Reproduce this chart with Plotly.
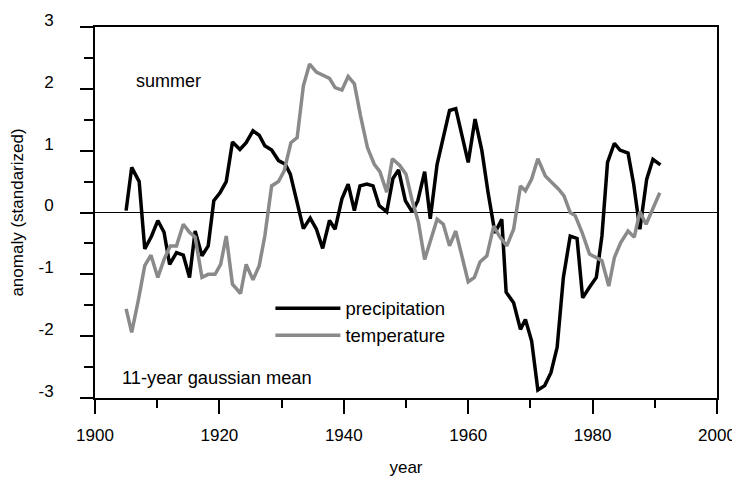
import plotly.graph_objects as go

# ---- data ----
precip_years = [1905.0, 1905.9, 1907.1, 1908.0, 1909.1, 1910.1, 1911.1, 1912.0, 1913.1, 1914.2,
                1915.2, 1916.1, 1917.2, 1918.2, 1919.1, 1920.1, 1921.1, 1922.1, 1923.3, 1924.3,
                1925.4, 1926.4, 1927.3, 1928.4, 1929.5, 1930.6, 1931.4, 1932.4, 1933.5, 1934.6,
                1935.6, 1936.6, 1937.7, 1938.6, 1939.7, 1940.7, 1941.7, 1942.6, 1943.7, 1944.7,
                1945.7, 1946.9, 1947.9, 1948.8, 1949.9, 1951.0, 1951.9, 1953.0, 1953.9, 1955.0,
                1955.9, 1957.0, 1958.0, 1959.0, 1960.0, 1961.1, 1962.2, 1963.2, 1964.3, 1965.4,
                1966.1, 1967.3, 1968.4, 1969.2, 1970.2, 1971.2, 1972.3, 1973.3, 1974.3, 1975.3,
                1976.4, 1977.5, 1978.4, 1979.5, 1980.6, 1981.5, 1982.4, 1983.5, 1984.4, 1985.7,
                1986.6, 1987.6, 1988.7, 1989.7, 1990.9]
precip_values = [0.03, 0.73, 0.50, -0.59, -0.38, -0.13, -0.32, -0.84, -0.65, -0.69,
                 -1.05, -0.30, -0.70, -0.54, 0.19, 0.32, 0.50, 1.14, 1.02, 1.13,
                 1.32, 1.25, 1.08, 1.01, 0.84, 0.78, 0.62, 0.19, -0.26, -0.09,
                 -0.27, -0.58, -0.13, -0.27, 0.22, 0.46, 0.03, 0.43, 0.46, 0.43,
                 0.11, 0.01, 0.55, 0.69, 0.19, 0.01, 0.19, 0.66, -0.10, 0.78,
                 1.19, 1.65, 1.68, 1.24, 0.81, 1.51, 1.00, 0.32, -0.33, -0.11,
                 -1.29, -1.46, -1.89, -1.73, -2.08, -2.87, -2.80, -2.59, -2.18, -1.05,
                 -0.38, -0.42, -1.38, -1.21, -1.05, -0.38, 0.81, 1.12, 1.01, 0.96,
                 0.46, -0.27, 0.54, 0.86, 0.77]

temp_years = [1905.0, 1905.9, 1907.0, 1908.0, 1909.0, 1910.1, 1911.1, 1912.1, 1913.1, 1914.2,
              1915.2, 1916.1, 1917.2, 1918.2, 1919.3, 1920.2, 1921.1, 1922.1, 1923.4, 1924.3,
              1925.4, 1926.4, 1927.3, 1928.4, 1929.5, 1930.4, 1931.5, 1932.5, 1933.5, 1934.5,
              1935.6, 1936.6, 1937.7, 1938.6, 1939.7, 1940.7, 1941.7, 1942.7, 1943.8, 1944.9,
              1945.8, 1946.9, 1947.8, 1949.0, 1950.0, 1951.0, 1952.0, 1953.0, 1954.0, 1955.0,
              1956.0, 1957.0, 1958.0, 1959.1, 1960.0, 1961.0, 1961.9, 1963.0, 1964.1, 1965.0,
              1966.2, 1967.3, 1968.4, 1969.2, 1970.2, 1971.2, 1972.4, 1973.4, 1974.5, 1975.4,
              1976.4, 1977.2, 1978.3, 1979.5, 1980.6, 1981.5, 1982.6, 1983.5, 1984.5, 1985.7,
              1986.7, 1987.6, 1988.6, 1989.7, 1990.8]
temp_values = [-1.56, -1.94, -1.40, -0.86, -0.69, -1.05, -0.76, -0.54, -0.54, -0.19,
               -0.32, -0.40, -1.05, -1.00, -1.00, -0.84, -0.38, -1.16, -1.31, -0.84,
               -1.09, -0.86, -0.38, 0.43, 0.50, 0.67, 1.13, 1.21, 2.05, 2.40,
               2.27, 2.22, 2.17, 2.02, 1.98, 2.20, 2.08, 1.56, 1.05, 0.78,
               0.66, 0.33, 0.87, 0.76, 0.62, 0.19, -0.16, -0.76, -0.43, -0.11,
               -0.19, -0.54, -0.30, -0.73, -1.12, -1.05, -0.80, -0.70, -0.22, -0.38,
               -0.54, -0.27, 0.43, 0.35, 0.54, 0.87, 0.59, 0.49, 0.38, 0.27,
               0.00, -0.05, -0.32, -0.67, -0.73, -0.78, -1.19, -0.73, -0.49, -0.30,
               -0.40, 0.01, -0.19, 0.05, 0.32]

y_tick_vals = [-3, -2, -1, 0, 1, 2, 3]
y_tick_text = ["-3", "-2", "-1", "0", "1", "2", "3"]
x_tick_vals = [1900, 1920, 1940, 1960, 1980, 2000]
x_tick_text = ["1900", "1920", "1940", "1960", "1980", "2000"]

FONT = "Liberation Sans, Arial, sans-serif"

fig = go.Figure()
fig.add_trace(go.Scatter(x=precip_years, y=precip_values, mode="lines", name="precipitation",
                         line=dict(color="black", width=3.5)))
fig.add_trace(go.Scatter(x=temp_years, y=temp_values, mode="lines", name="temperature",
                         line=dict(color="#8a8a8a", width=3.5)))

# the page places the figure 8 px from the window's top-left corner
fig.update_layout(
    width=732, height=469,
    margin=dict(l=87, r=23, t=19, b=79),
    paper_bgcolor="white", plot_bgcolor="white",
    font=dict(family=FONT, size=17, color="black"),
    showlegend=True,
    legend=dict(x=0.282, y=0.292, xanchor="left", yanchor="top",
                bgcolor="rgba(0,0,0,0)", font=dict(size=18.5), itemwidth=65,
                tracegroupgap=0),
    annotations=[
        dict(text="summer", x=1906.2, y=2.12, xref="x", yref="y", xanchor="left",
             yanchor="middle", showarrow=False, font=dict(size=18)),
        dict(text="11-year gaussian mean", x=1904.0, y=-2.67, xref="x", yref="y",
             xanchor="left", yanchor="middle", showarrow=False, font=dict(size=18.3)),
    ],
)

fig.update_xaxes(
    range=[1900, 2000], tickmode="array", tickvals=x_tick_vals, ticktext=x_tick_text,
    ticks="outside", ticklen=14, tickwidth=1.5, tickcolor="black",
    minor=dict(tickmode="linear", tick0=1910, dtick=20, ticks="outside", ticklen=8,
               tickwidth=1.5, tickcolor="black"),
    showline=True, linewidth=2, linecolor="black", mirror=True,
    showgrid=False, zeroline=False, ticklabelstandoff=7, automargin=False,
    title=dict(text="year", font=dict(size=17), standoff=18),
)
fig.update_yaxes(
    range=[-3, 3], tickmode="array", tickvals=y_tick_vals, ticktext=y_tick_text,
    ticks="outside", ticklen=13, tickwidth=1.5, tickcolor="black",
    minor=dict(tickmode="linear", tick0=-2.5, dtick=1, ticks="outside", ticklen=9,
               tickwidth=1.5, tickcolor="black"),
    showline=True, linewidth=2, linecolor="black", mirror=True,
    showgrid=False, zeroline=True, zerolinecolor="black", zerolinewidth=1,
    ticklabelstandoff=23, ticklabelshift=-7, automargin=False,
    title=dict(text="anomaly (standarized)", font=dict(size=17), standoff=11),
)

fig.write_html("out.html")
